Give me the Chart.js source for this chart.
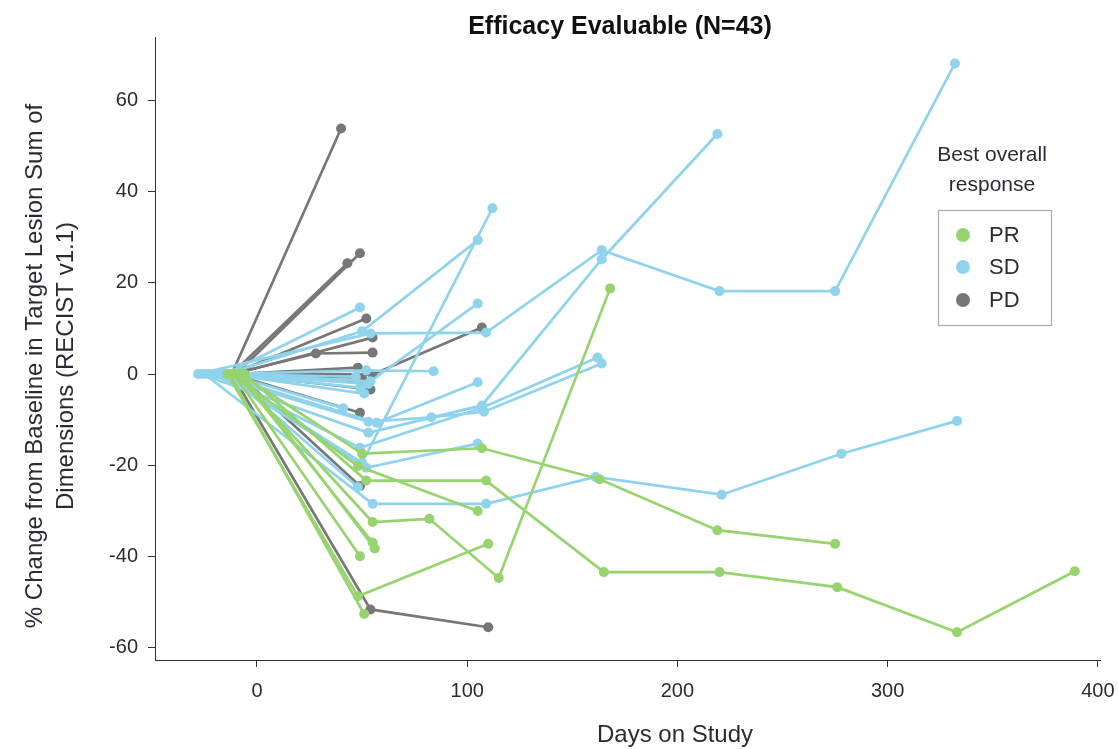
<!DOCTYPE html>
<html>
<head>
<meta charset="utf-8">
<script src="https://cdn.jsdelivr.net/npm/chart.js@4.4.1/dist/chart.umd.min.js"></script>
<style>
  html, body { margin: 0; padding: 0; background: #fff; }
  #wrap { width: 1118px; height: 749px; position: relative; }
</style>
</head>
<body>
<div id="wrap"><canvas id="spider" width="1118" height="749"></canvas></div>
<script>
// --- Data: one inner array per patient (days on study / % change) ---
const prDays = [
  [-8, 50, 107, 163, 219, 275],
  [-6, 52, 109, 165, 220, 276, 333, 389],
  [-12, 48, 105],
  [-10, 55, 82, 115, 168],
  [-14, 48, 110],
  [-9, 55],
  [-7, 56],
  [-11, 49],
  [-13, 51]
];
const prChange = [
  [0, -17.5, -16.3, -23.1, -34.3, -37.3],
  [0, -23.4, -23.4, -43.5, -43.5, -46.8, -56.7, -43.3],
  [0, -20.2, -30.1],
  [0, -32.5, -31.8, -44.8, 18.8],
  [0, -48.8, -37.3],
  [0, -37.0],
  [0, -38.3],
  [0, -40.0],
  [0, -52.7]
];

const sdDays = [
  [-28, 54, 109, 164, 220, 275, 332],
  [-27, 53, 107, 164, 219],
  [-16, 50, 112],
  [-15, 50, 105],
  [-14, 54, 105],
  [-17, 52, 84],
  [-15, 49],
  [-23, 53, 83, 108, 164],
  [-18, 52, 105],
  [-14, 48],
  [-25, 55, 109, 161, 221, 278, 333],
  [-21, 49, 107, 162],
  [-19, 57, 105],
  [-14, 49],
  [-15, 51],
  [-16, 47],
  [-14, 41],
  [-15, 53]
];
const sdChange = [
  [0, 8.9, 9.1, 27.2, 18.2, 18.2, 68.2],
  [0, -12.9, -6.9, 25.2, 52.7],
  [0, -19.5, 36.4],
  [0, 9.4, 29.4],
  [0, -1.6, 15.5],
  [0, 0.8, 0.6],
  [0, 14.6],
  [0, -10.5, -9.5, -8.3, 2.3],
  [0, -20.6, -15.3],
  [0, -24.8],
  [0, -28.5, -28.5, -22.6, -26.5, -17.5, -10.3],
  [0, -16.2, -7.4, 3.6],
  [0, -10.7, -1.8],
  [0, -3.0],
  [0, -4.3],
  [0, -0.6],
  [0, -7.5],
  [0, -2.2]
];

const pdDays = [
  [-12, 40],
  [-12, 43],
  [-10, 49],
  [-12, 52],
  [-11, 55],
  [-12, 28, 55],
  [-10, 48],
  [-12, 55, 107],
  [-10, 50],
  [-11, 54],
  [-12, 49],
  [-9, 49],
  [-12, 54, 110],
  [-10, 51]
];
const pdChange = [
  [0, 53.9],
  [0, 24.3],
  [0, 26.5],
  [0, 12.2],
  [0, 8.0],
  [0, 4.5, 4.7],
  [0, 1.4],
  [0, -0.1, 10.2],
  [0, -0.8],
  [0, -3.4],
  [0, -8.5],
  [0, -24.6],
  [0, -51.7, -55.6],
  [0, -1.8]
];

const responseLabels = ['PR', 'SD', 'PD'];
const xTicks = [0, 100, 200, 300, 400];
const yTicks = [-60, -40, -20, 0, 20, 40, 60];

const COLORS = { PR: '#97d46f', SD: '#8fd3ec', PD: '#777777' };
const FONT = '"Liberation Sans Narrow", "Liberation Sans", Arial, sans-serif';
const TEXT = '#2b2b35';

function buildSets(daysList, changeList, key) {
  return daysList.map((days, i) => ({
    label: key,
    data: days.map((d, j) => ({ x: d, y: changeList[i][j] })),
    showLine: true,
    borderColor: COLORS[key],
    backgroundColor: COLORS[key],
    borderWidth: 2.7,
    pointRadius: 5,
    pointBorderWidth: 0,
    pointHoverRadius: 5,
    tension: 0
  }));
}

// green drawn on top, then blue, then grey
const datasets = [
  ...buildSets(prDays, prChange, 'PR'),
  ...buildSets(sdDays, sdChange, 'SD'),
  ...buildSets(pdDays, pdChange, 'PD')
];

// --- Titles + legend drawn on the canvas ---
const decorations = {
  id: 'decorations',
  afterDraw(chart) {
    const ctx = chart.ctx;
    ctx.save();
    ctx.fillStyle = '#111';
    ctx.textAlign = 'center';
    ctx.textBaseline = 'middle';
    ctx.font = 'bold 25px ' + FONT;
    ctx.fillText('Efficacy Evaluable (N=43)', 620, 27);

    ctx.fillStyle = TEXT;
    ctx.font = '24px ' + FONT;
    ctx.fillText('Days on Study', 675, 735);

    ctx.save();
    ctx.translate(35, 366);
    ctx.rotate(-Math.PI / 2);
    ctx.fillText('% Change from Baseline in Target Lesion Sum of', 0, 0);
    ctx.fillText('Dimensions (RECIST v1.1)', 0, 31);
    ctx.restore();

    // legend
    ctx.font = '21px ' + FONT;
    ctx.fillText('Best overall', 992, 155);
    ctx.fillText('response', 992, 185);
    ctx.strokeStyle = '#aaaaaa';
    ctx.lineWidth = 1.2;
    ctx.strokeRect(938.5, 210.5, 113, 115);
    const rowsY = [235, 267, 300];
    ctx.textAlign = 'left';
    ctx.font = '22px ' + FONT;
    responseLabels.forEach((lab, i) => {
      ctx.fillStyle = COLORS[lab];
      ctx.beginPath();
      ctx.arc(963, rowsY[i], 7, 0, Math.PI * 2);
      ctx.fill();
      ctx.fillStyle = TEXT;
      ctx.fillText(lab, 989, rowsY[i] + 1);
    });
    ctx.restore();
  }
};

new Chart(document.getElementById('spider'), {
  type: 'scatter',
  data: { datasets },
  options: {
    responsive: false,
    animation: false,
    layout: { padding: { top: 37, right: 18, left: 0, bottom: 0 } },
    plugins: { legend: { display: false }, tooltip: { enabled: false }, title: { display: false } },
    scales: {
      x: {
        type: 'linear',
        min: -48.5,
        max: 401,
        afterFit: s => { s.height = 89; s.paddingLeft = 0; s.paddingRight = 0; },
        afterBuildTicks: s => { s.ticks = xTicks.map(v => ({ value: v })); },
        ticks: { color: TEXT, font: { family: FONT, size: 20 }, padding: 12, maxRotation: 0 },
        grid: { drawOnChartArea: false, drawTicks: true, tickLength: 7, color: '#333' },
        border: { display: true, color: '#333', width: 1 }
      },
      y: {
        type: 'linear',
        min: -62.8,
        max: 74,
        afterFit: s => { s.width = 155; s.paddingTop = 0; s.paddingBottom = 0; },
        afterBuildTicks: s => { s.ticks = yTicks.map(v => ({ value: v })); },
        ticks: { color: TEXT, font: { family: FONT, size: 20 }, padding: 10 },
        grid: { drawOnChartArea: false, drawTicks: true, tickLength: 7, color: '#333' },
        border: { display: true, color: '#333', width: 1 }
      }
    }
  },
  plugins: [decorations]
});
</script>
</body>
</html>
